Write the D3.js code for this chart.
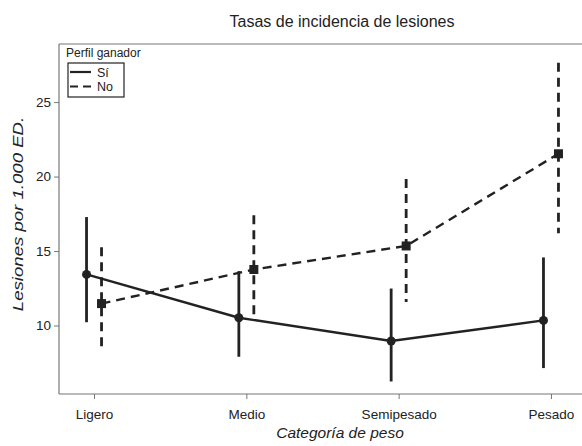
<!DOCTYPE html>
<html>
<head>
<meta charset="utf-8">
<script src="https://cdn.jsdelivr.net/npm/d3@7"></script>
<style>
  body { margin: 0; background: #fff; }
  text { font-family: "Liberation Sans", Arial, sans-serif; fill: #222; }
</style>
</head>
<body>
<div id="chart"></div>
<script>
// categories and series
var categories = ["Ligero", "Medio", "Semipesado", "Pesado"];
var siMean = [13.43, 10.52, 8.96, 10.34];
var siLow  = [10.22, 7.9, 6.24, 7.14];
var siHigh = [17.28, 13.65, 12.48, 14.57];
var noMean = [11.47, 13.76, 15.34, 21.53];
var noLow  = [8.43, 10.45, 11.57, 16.2];
var noHigh = [15.25, 17.4, 19.84, 27.64];
var yTicks = [10, 15, 20, 25];

var w = 582, h = 446;
var plotLeft = 59, plotTop = 44, plotBottom = 394, plotRight = 586;

var svg = d3.select("#chart").append("svg")
  .attr("width", w)
  .attr("height", h);

var x = d3.scalePoint()
  .domain(categories)
  .range([plotLeft, plotRight])
  .padding(0.23);

var y = d3.scaleLinear()
  .domain([5.4, 28.9])
  .range([plotBottom, plotTop]);

// frame
svg.append("line").attr("x1", plotLeft).attr("x2", w).attr("y1", plotTop).attr("y2", plotTop)
  .attr("stroke", "#777").attr("stroke-width", 1.2);

var yAxis = svg.append("g")
  .attr("transform", "translate(" + plotLeft + ",0)")
  .call(d3.axisLeft(y).tickValues(yTicks).tickSize(5).tickPadding(3));
var xAxis = svg.append("g")
  .attr("transform", "translate(0," + plotBottom + ")")
  .call(d3.axisBottom(x).tickSize(5).tickPadding(10));

[yAxis, xAxis].forEach(function(a) {
  a.select(".domain").attr("stroke", "#777").attr("stroke-width", 1.2);
  a.selectAll(".tick line").attr("stroke", "#777");
  a.selectAll(".tick text")
    .attr("fill", "#222")
    .style("font-size", "13.5px")
    .style("font-family", "'Liberation Sans', Arial, sans-serif");
});
// axis lines run the full frame
yAxis.select(".domain").attr("d", "M0," + plotTop + "V" + plotBottom);
xAxis.select(".domain").attr("d", "M" + plotLeft + ",0H" + w);

// titles
svg.append("text")
  .attr("x", 342).attr("y", 27)
  .attr("text-anchor", "middle")
  .style("font-size", "16px")
  .text("Tasas de incidencia de lesiones");

svg.append("text")
  .attr("x", 340).attr("y", 438)
  .attr("text-anchor", "middle")
  .style("font-size", "15.5px")
  .style("font-style", "italic")
  .text("Categoría de peso");

// y title is stretched along its length in the original
svg.append("text")
  .attr("transform", "translate(23,214) rotate(-90) scale(1.2,1)")
  .attr("text-anchor", "middle")
  .style("font-size", "15.5px")
  .style("font-style", "italic")
  .text("Lesiones por 1.000 ED.");

var series = [
  { name: "Sí", mean: siMean, low: siLow, high: siHigh, dx: -7.5, dash: null, shape: "circle" },
  { name: "No", mean: noMean, low: noLow, high: noHigh, dx: 7.5, dash: "9,6", shape: "square" }
];

series.forEach(function(s) {
  var pts = categories.map(function(c, i) {
    return { cat: c, m: s.mean[i], lo: s.low[i], hi: s.high[i] };
  });
  var line = d3.line()
    .x(function(d) { return x(d.cat) + s.dx; })
    .y(function(d) { return y(d.m); });

  var g = svg.append("g");
  g.append("path")
    .datum(pts)
    .attr("d", line)
    .attr("fill", "none")
    .attr("stroke", "#222")
    .attr("stroke-width", 2.4)
    .attr("stroke-dasharray", s.dash);

  g.selectAll(".err")
    .data(pts)
    .enter()
    .append("line")
    .attr("x1", function(d) { return x(d.cat) + s.dx; })
    .attr("x2", function(d) { return x(d.cat) + s.dx; })
    .attr("y1", function(d) { return y(d.hi); })
    .attr("y2", function(d) { return y(d.lo); })
    .attr("stroke", "#222")
    .attr("stroke-width", 2.8)
    .attr("stroke-dasharray", s.dash);

  if (s.shape == "circle") {
    g.selectAll(".pt")
      .data(pts)
      .enter()
      .append("circle")
      .attr("cx", function(d) { return x(d.cat) + s.dx; })
      .attr("cy", function(d) { return y(d.m); })
      .attr("r", 4.5)
      .attr("fill", "#222");
  } else {
    g.selectAll(".pt")
      .data(pts)
      .enter()
      .append("rect")
      .attr("x", function(d) { return x(d.cat) + s.dx - 4.5; })
      .attr("y", function(d) { return y(d.m) - 4.5; })
      .attr("width", 9)
      .attr("height", 9)
      .attr("fill", "#222");
  }
});

// legend
var lg = svg.append("g");
lg.append("text")
  .attr("x", 66).attr("y", 57)
  .style("font-size", "12px")
  .text("Perfil ganador");
lg.append("rect")
  .attr("x", 68).attr("y", 63)
  .attr("width", 56).attr("height", 34)
  .attr("fill", "#fff")
  .attr("stroke", "#222")
  .attr("stroke-width", 1.2);
series.forEach(function(s, i) {
  var ly = 72 + i * 14.5;
  lg.append("line")
    .attr("x1", 70).attr("x2", 91)
    .attr("y1", ly).attr("y2", ly)
    .attr("stroke", "#222")
    .attr("stroke-width", 2.2)
    .attr("stroke-dasharray", s.dash ? "8,5" : null);
  lg.append("text")
    .attr("x", 97).attr("y", ly + 4.5)
    .style("font-size", "12.5px")
    .text(s.name);
});
</script>
</body>
</html>
